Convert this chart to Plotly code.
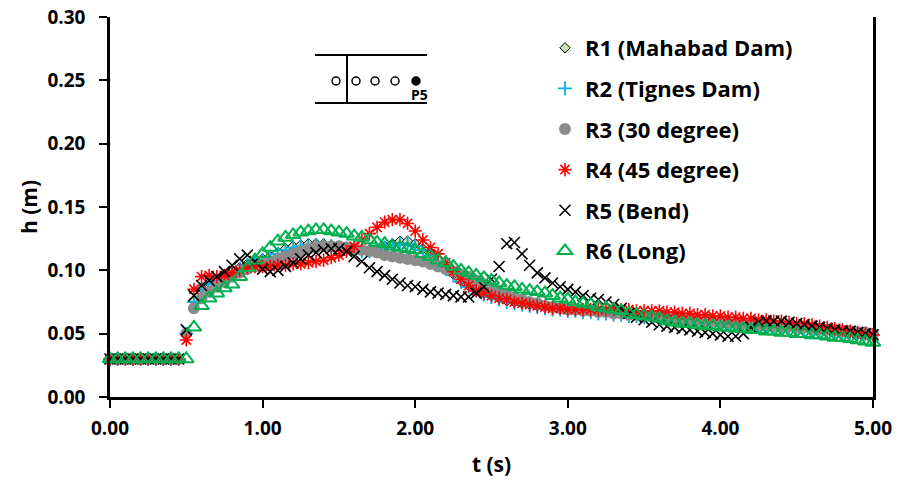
import plotly.graph_objects as go

# ---------------- data ----------------
t = [0.00, 0.05, 0.10, 0.15, 0.20, 0.25, 0.30, 0.35, 0.40, 0.45,
     0.50, 0.55, 0.60, 0.65, 0.70, 0.75, 0.80, 0.85, 0.90, 0.95,
     1.00, 1.05, 1.10, 1.15, 1.20, 1.25, 1.30, 1.35, 1.40, 1.45,
     1.50, 1.55, 1.60, 1.65, 1.70, 1.75, 1.80, 1.85, 1.90, 1.95,
     2.00, 2.05, 2.10, 2.15, 2.20, 2.25, 2.30, 2.35, 2.40, 2.45,
     2.50, 2.55, 2.60, 2.65, 2.70, 2.75, 2.80, 2.85, 2.90, 2.95,
     3.00, 3.05, 3.10, 3.15, 3.20, 3.25, 3.30, 3.35, 3.40, 3.45,
     3.50, 3.55, 3.60, 3.65, 3.70, 3.75, 3.80, 3.85, 3.90, 3.95,
     4.00, 4.05, 4.10, 4.15, 4.20, 4.25, 4.30, 4.35, 4.40, 4.45,
     4.50, 4.55, 4.60, 4.65, 4.70, 4.75, 4.80, 4.85, 4.90, 4.95,
     5.00]

r1_mahabad = [0.030, 0.030, 0.030, 0.030, 0.030, 0.030, 0.030, 0.030, 0.030, 0.030,
              0.050, 0.076, 0.086, 0.090, 0.093, 0.096, 0.099, 0.102, 0.105, 0.107,
              0.109, 0.111, 0.114, 0.117, 0.119, 0.120, 0.121, 0.121, 0.121, 0.120,
              0.119, 0.118, 0.117, 0.116, 0.116, 0.117, 0.119, 0.121, 0.123, 0.123,
              0.121, 0.117, 0.113, 0.108, 0.102, 0.097, 0.092, 0.088, 0.085, 0.082,
              0.080, 0.078, 0.076, 0.075, 0.074, 0.073, 0.072, 0.071, 0.070, 0.070,
              0.069, 0.069, 0.068, 0.068, 0.067, 0.067, 0.066, 0.066, 0.065, 0.065,
              0.064, 0.064, 0.063, 0.063, 0.062, 0.062, 0.061, 0.061, 0.060, 0.060,
              0.059, 0.059, 0.058, 0.058, 0.057, 0.057, 0.056, 0.056, 0.055, 0.055,
              0.055, 0.054, 0.054, 0.053, 0.053, 0.052, 0.052, 0.051, 0.051, 0.050,
              0.050]

r2_tignes = [0.030, 0.030, 0.030, 0.030, 0.030, 0.030, 0.030, 0.030, 0.030, 0.030,
             0.050, 0.075, 0.085, 0.089, 0.092, 0.095, 0.098, 0.101, 0.104, 0.106,
             0.108, 0.110, 0.113, 0.116, 0.118, 0.119, 0.120, 0.120, 0.120, 0.119,
             0.118, 0.117, 0.116, 0.115, 0.115, 0.116, 0.118, 0.120, 0.121, 0.121,
             0.119, 0.116, 0.112, 0.107, 0.101, 0.096, 0.091, 0.087, 0.084, 0.081,
             0.079, 0.077, 0.075, 0.074, 0.073, 0.072, 0.071, 0.070, 0.069, 0.069,
             0.068, 0.068, 0.067, 0.067, 0.066, 0.066, 0.065, 0.065, 0.064, 0.064,
             0.063, 0.063, 0.062, 0.062, 0.061, 0.061, 0.060, 0.060, 0.059, 0.059,
             0.058, 0.058, 0.057, 0.057, 0.056, 0.056, 0.056, 0.055, 0.055, 0.054,
             0.054, 0.053, 0.053, 0.052, 0.052, 0.052, 0.051, 0.051, 0.050, 0.050,
             0.049]

r3_30deg = [0.030, 0.030, 0.030, 0.030, 0.030, 0.030, 0.030, 0.030, 0.030, 0.030,
            0.050, 0.070, 0.078, 0.083, 0.087, 0.091, 0.095, 0.098, 0.101, 0.103,
            0.105, 0.107, 0.109, 0.111, 0.113, 0.115, 0.117, 0.118, 0.119, 0.119,
            0.119, 0.118, 0.117, 0.116, 0.115, 0.114, 0.112, 0.111, 0.110, 0.109,
            0.108, 0.107, 0.105, 0.103, 0.101, 0.099, 0.097, 0.095, 0.092, 0.089,
            0.086, 0.083, 0.081, 0.079, 0.077, 0.075, 0.074, 0.072, 0.071, 0.070,
            0.069, 0.069, 0.068, 0.068, 0.067, 0.067, 0.066, 0.066, 0.065, 0.065,
            0.064, 0.064, 0.063, 0.063, 0.062, 0.062, 0.061, 0.061, 0.060, 0.060,
            0.059, 0.059, 0.058, 0.058, 0.057, 0.057, 0.057, 0.056, 0.056, 0.056,
            0.055, 0.055, 0.054, 0.054, 0.053, 0.053, 0.052, 0.052, 0.051, 0.051,
            0.050]

r4_45deg = [0.030, 0.030, 0.030, 0.030, 0.030, 0.030, 0.030, 0.030, 0.030, 0.030,
            0.045, 0.085, 0.095, 0.096, 0.095, 0.096, 0.098, 0.100, 0.102, 0.103,
            0.103, 0.103, 0.104, 0.104, 0.105, 0.105, 0.106, 0.107, 0.108, 0.110,
            0.112, 0.115, 0.119, 0.124, 0.129, 0.134, 0.138, 0.140, 0.140, 0.137,
            0.131, 0.124, 0.118, 0.113, 0.106, 0.099, 0.093, 0.088, 0.084, 0.082,
            0.080, 0.078, 0.077, 0.075, 0.074, 0.073, 0.072, 0.071, 0.070, 0.070,
            0.069, 0.069, 0.069, 0.069, 0.069, 0.069, 0.069, 0.069, 0.069, 0.068,
            0.068, 0.068, 0.068, 0.067, 0.067, 0.066, 0.066, 0.065, 0.065, 0.064,
            0.064, 0.063, 0.063, 0.062, 0.062, 0.061, 0.061, 0.060, 0.060, 0.059,
            0.058, 0.058, 0.057, 0.056, 0.055, 0.054, 0.053, 0.052, 0.051, 0.050,
            0.049]

r5_bend = [0.030, 0.030, 0.030, 0.030, 0.030, 0.030, 0.030, 0.030, 0.030, 0.030,
           0.053, 0.080, 0.088, 0.092, 0.095, 0.099, 0.104, 0.109, 0.112, 0.107,
           0.101, 0.099, 0.100, 0.103, 0.106, 0.109, 0.112, 0.114, 0.116, 0.117,
           0.117, 0.115, 0.111, 0.107, 0.102, 0.099, 0.096, 0.093, 0.090, 0.088,
           0.087, 0.085, 0.083, 0.082, 0.081, 0.080, 0.079, 0.079, 0.082, 0.087,
           0.093, 0.103, 0.121, 0.122, 0.113, 0.104, 0.098, 0.094, 0.090, 0.087,
           0.085, 0.083, 0.080, 0.078, 0.077, 0.075, 0.073, 0.070, 0.066, 0.063,
           0.061, 0.059, 0.057, 0.056, 0.055, 0.054, 0.053, 0.052, 0.051, 0.050,
           0.049, 0.048, 0.048, 0.050, 0.055, 0.059, 0.060, 0.060, 0.060, 0.059,
           0.058, 0.057, 0.056, 0.055, 0.054, 0.053, 0.052, 0.052, 0.051, 0.050,
           0.049]

r6_long = [0.030, 0.030, 0.030, 0.030, 0.030, 0.030, 0.030, 0.030, 0.030, 0.030,
           0.030, 0.055, 0.072, 0.078, 0.082, 0.086, 0.089, 0.095, 0.102, 0.108,
           0.113, 0.118, 0.123, 0.126, 0.128, 0.130, 0.131, 0.132, 0.132, 0.131,
           0.130, 0.129, 0.127, 0.126, 0.124, 0.122, 0.121, 0.119, 0.118, 0.117,
           0.116, 0.113, 0.111, 0.108, 0.106, 0.103, 0.100, 0.098, 0.096, 0.094,
           0.092, 0.090, 0.088, 0.087, 0.085, 0.084, 0.083, 0.082, 0.080, 0.078,
           0.077, 0.075, 0.074, 0.073, 0.071, 0.070, 0.069, 0.068, 0.066, 0.065,
           0.064, 0.063, 0.062, 0.060, 0.059, 0.058, 0.058, 0.057, 0.056, 0.056,
           0.055, 0.055, 0.054, 0.054, 0.053, 0.053, 0.052, 0.052, 0.051, 0.051,
           0.050, 0.050, 0.049, 0.049, 0.048, 0.047, 0.047, 0.046, 0.045, 0.044,
           0.043]

series_names = ["R1 (Mahabad Dam)", "R2 (Tignes Dam)", "R3 (30 degree)",
                "R4 (45 degree)", "R5 (Bend)", "R6 (Long)"]
x_tick_vals = [0, 1, 2, 3, 4, 5]
y_tick_vals = [0.00, 0.05, 0.10, 0.15, 0.20, 0.25, 0.30]

# ---------------- figure ----------------
FONT = "Open Sans"
series = [r1_mahabad, r2_tignes, r3_30deg, r4_45deg, r5_bend, r6_long]
markers = [
    dict(symbol="diamond", size=8, color="#C5E0B4", line=dict(color="black", width=1)),
    dict(symbol="cross-thin", size=10, color="#00B0F0", line=dict(color="#00B0F0", width=1.8)),
    dict(symbol="circle", size=12, color="#8C8C8C", line=dict(width=0)),
    dict(symbol="asterisk-open", size=11, color="#FF0000", line=dict(color="#FF0000", width=1.6)),
    dict(symbol="x-thin-open", size=11, color="black", line=dict(color="black", width=1.6)),
    dict(symbol="triangle-up-open", size=13, color="#00B050", line=dict(color="#00B050", width=2)),
]

fig = go.Figure()
for i, (name, ys, mk) in enumerate(zip(series_names, series, markers)):
    fig.add_trace(go.Scatter(x=t, y=ys, mode="markers", name=name, marker=mk,
                             legendgroup="g%d" % i, cliponaxis=False))

L, R, T, B = 110, 27, 17, 85
W, H = 900, 482
pw, ph = W - L - R, H - T - B


def px(x):
    return (x - L) / pw


def py(y):
    return (H - B - y) / ph


shapes = [
    dict(type="line", xref="paper", yref="paper", x0=px(315), x1=px(427), y0=py(55), y1=py(55),
         line=dict(color="black", width=2)),
    dict(type="line", xref="paper", yref="paper", x0=px(315), x1=px(427), y0=py(103), y1=py(103),
         line=dict(color="black", width=2)),
    dict(type="line", xref="paper", yref="paper", x0=px(347), x1=px(347), y0=py(55), y1=py(103),
         line=dict(color="black", width=2)),
]
for cx, filled in [(336, False), (356, False), (375, False), (395, False), (416, True)]:
    shapes.append(dict(type="circle", xref="paper", yref="paper",
                       x0=px(cx - 4), x1=px(cx + 4), y0=py(81 - 4), y1=py(81 + 4),
                       line=dict(color="black", width=1.5),
                       fillcolor="black" if filled else "white"))

fig.update_layout(
    width=W, height=H,
    margin=dict(l=L, r=R, t=T, b=B, autoexpand=False),
    paper_bgcolor="white", plot_bgcolor="white",
    font=dict(family=FONT, color="black", size=20, weight="bold"),
    shapes=shapes,
    annotations=[dict(text="P5", xref="paper", yref="paper", x=px(419), y=py(95),
                      xanchor="center", yanchor="middle",
                      showarrow=False, font=dict(family=FONT, size=14, weight="bold", color="black"))],
    legend=dict(x=px(545), y=py(27), xanchor="left", yanchor="top",
                font=dict(family=FONT, size=22, weight="bold", color="black"),
                tracegroupgap=9, bgcolor="rgba(0,0,0,0)", itemsizing="trace"),
    xaxis=dict(range=[0, 5], tickvals=x_tick_vals, tickformat=".2f", automargin=False,
               showline=True, linewidth=2.5, linecolor="black", mirror=False,
               ticks="outside", ticklen=8, tickwidth=1.5, tickcolor="black",
               showgrid=False, zeroline=False, ticklabelstandoff=4,
               tickfont=dict(family=FONT, size=19, weight="bold"),
               title=dict(text="t (s)", font=dict(family=FONT, size=21, weight="bold"), standoff=18)),
    yaxis=dict(range=[0, 0.30], tickvals=y_tick_vals, tickformat=".2f", automargin=False,
               showline=True, linewidth=2.5, linecolor="black", mirror=True,
               ticks="outside", ticklen=8, tickwidth=1.5, tickcolor="black",
               showgrid=False, zeroline=False, ticklabelstandoff=10,
               tickfont=dict(family=FONT, size=19, weight="bold"),
               title=dict(text="h (m)", font=dict(family=FONT, size=21, weight="bold"), standoff=5)),
)

fig.write_html("out.html")
